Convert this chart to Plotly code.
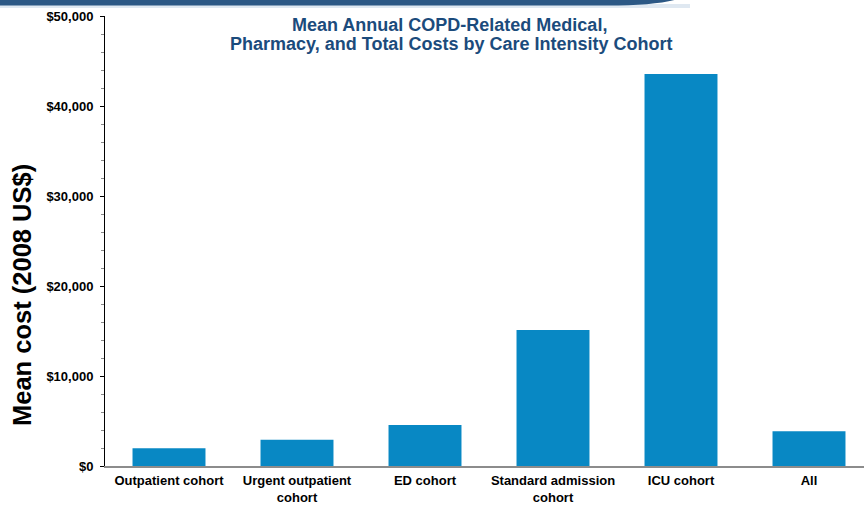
import plotly.graph_objects as go

categories = ["Outpatient cohort", "Urgent outpatient<br>cohort", "ED cohort",
              "Standard admission<br>cohort", "ICU cohort", "All"]
mean_cost = [1970, 2920, 4560, 15100, 43550, 3860]

y_tick_values = [0, 10000, 20000, 30000, 40000, 50000]
y_tick_labels = ["$0", "$10,000", "$20,000", "$30,000", "$40,000", "$50,000"]

title_line1 = "Mean Annual COPD-Related Medical,"
title_line2 = "Pharmacy, and Total Costs by Care Intensity Cohort"
y_title = "Mean cost (2008 US$)"

W, H = 864, 505
L, T, B, R = 105, 16, 39, 0
PW, PH = W - L - R, H - T - B

def px_x(p):
    return (p - L) / PW

def px_y(p):
    return (H - B - p) / PH

FONT = "Liberation Sans, Arial, sans-serif"

fig = go.Figure()
fig.add_trace(go.Bar(x=categories, y=mean_cost, marker=dict(color="#0888c4", line=dict(width=0)),
                     width=0.57, hoverinfo="x+y"))

fig.update_layout(
    width=W, height=H,
    margin=dict(l=L, r=R, t=T, b=B, autoexpand=False),
    paper_bgcolor="white", plot_bgcolor="white",
    showlegend=False,
    font=dict(family=FONT, color="black"),
    xaxis=dict(
        range=[-0.5, -0.5 + PW / 128],
        showline=True, linecolor="#8c8c8c", linewidth=1.5,
        ticks="", showgrid=False, zeroline=False, automargin=False,
        ticklabelstandoff=2,
        tickfont=dict(size=13, color="black", family=FONT, weight="bold"),
    ),
    yaxis=dict(
        range=[0, 50000],
        tickvals=y_tick_values, ticktext=y_tick_labels,
        showline=True, linecolor="black", linewidth=1,
        ticks="outside", ticklen=4, tickcolor="black", tickwidth=1,
        minor=dict(dtick=2000, ticks="outside", ticklen=3, tickcolor="#888888", tickwidth=1),
        showgrid=False, zeroline=False, automargin=False,
        tickfont=dict(size=13, color="black", family=FONT, weight="bold"),
        ticklabelstandoff=4,
    ),
)

title_font = dict(size=18, color="#1b4b7c", family=FONT, weight="bold")
fig.add_annotation(text=title_line1, xref="paper", yref="paper", x=px_x(449), y=px_y(25.5),
                   xanchor="center", yanchor="middle", showarrow=False, font=title_font)
fig.add_annotation(text=title_line2, xref="paper", yref="paper", x=px_x(451), y=px_y(43.5),
                   xanchor="center", yanchor="middle", showarrow=False, font=title_font)

fig.add_annotation(text=y_title, xref="paper", yref="paper", x=px_x(22), y=px_y(295),
                   xanchor="center", yanchor="middle", textangle=-90, showarrow=False,
                   font=dict(size=25.5, color="black", family=FONT, weight="bold"))

# top decorative band
fig.add_shape(type="rect", xref="paper", yref="paper", layer="above",
              x0=px_x(-2), x1=px_x(690), y0=px_y(8), y1=px_y(4),
              fillcolor="#dfe8f1", line=dict(width=0))
path = (f"M {px_x(-2)},{px_y(-1)} L {px_x(678)},{px_y(-1)} "
        f"Q {px_x(655)},{px_y(6)} {px_x(600)},{px_y(5.5)} "
        f"L {px_x(-2)},{px_y(5.5)} Z")
fig.add_shape(type="path", path=path, xref="paper", yref="paper", layer="above",
              fillcolor="#2c5885", line=dict(width=0))

fig.write_html("out.html", config={"displayModeBar": False},
               post_script="document.body.style.margin='0';document.body.style.overflow='hidden';")
